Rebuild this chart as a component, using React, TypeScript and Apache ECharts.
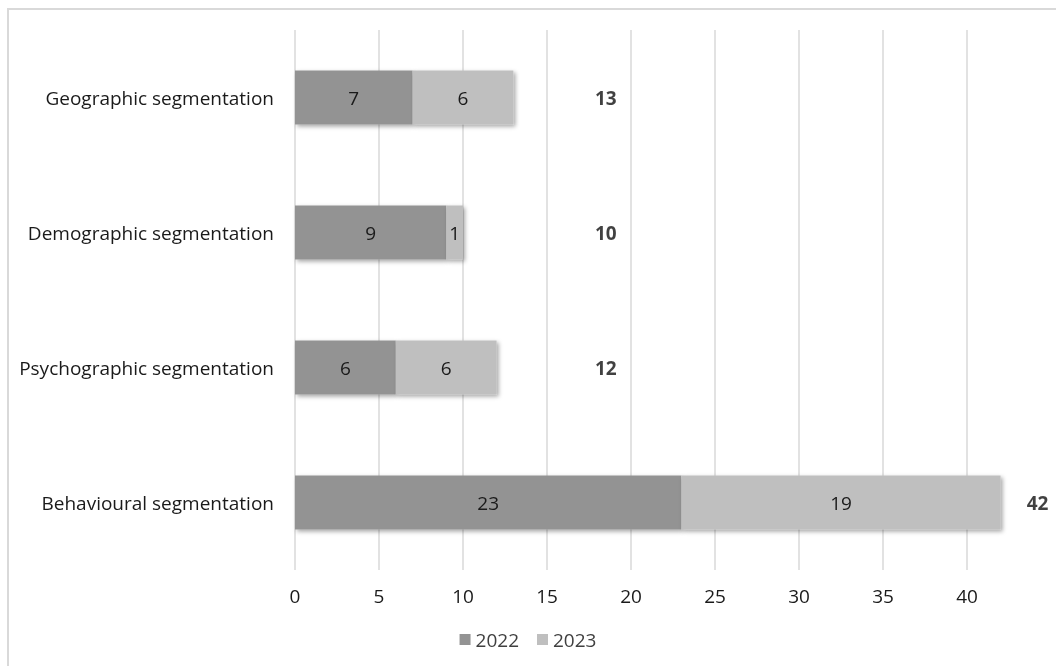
import React, { useEffect, useRef } from "react";
import * as echarts from "echarts";

// Segmentation approaches and counts per year
const categories = [
  "Geographic segmentation",
  "Demographic segmentation",
  "Psychographic segmentation",
  "Behavioural segmentation",
];
const values2022 = [7, 9, 6, 23];
const values2023 = [6, 1, 6, 19];
const seriesNames = ["2022", "2023"];
const xTicks = { min: 0, max: 40, interval: 5 };

const FONT = "'Open Sans', Lato, sans-serif";
const TEXT = "#1a1a1a";
const FS = 19;

export default function App() {
  const ref = useRef<HTMLDivElement>(null);

  useEffect(() => {
    if (!ref.current) return;
    const chart = echarts.init(ref.current, undefined, { renderer: "svg" });
    const totals = values2022.map((v, i) => v + values2023[i]);
    // total labels sit in a column right of the short bars, or just past a long bar
    const totalPoints = totals.map((t, i) => ({ value: [Math.max(t + 2.2, 18.5), i], total: t }));

    const barShadow = {
      shadowBlur: 4,
      shadowOffsetX: 2,
      shadowOffsetY: 2,
      shadowColor: "rgba(0,0,0,0.35)",
    };
    const insideLabel = {
      show: true,
      position: "inside" as const,
      color: TEXT,
      fontSize: FS,
      fontFamily: FONT,
    };

    chart.setOption({
      animation: false,
      textStyle: { fontFamily: FONT },
      grid: { left: 295, right: 89, top: 30, bottom: 96, containLabel: false },
      legend: {
        bottom: 12,
        left: "center",
        itemWidth: 11,
        itemHeight: 11,
        itemGap: 18,
        icon: "rect",
        data: seriesNames,
        textStyle: { color: "#404040", fontSize: FS, fontFamily: FONT },
      },
      xAxis: {
        type: "value",
        min: xTicks.min,
        max: xTicks.max,
        interval: xTicks.interval,
        axisLine: { show: false },
        axisTick: { show: false },
        axisLabel: { color: TEXT, fontSize: FS, fontFamily: FONT, margin: 16 },
        splitLine: { show: true, lineStyle: { color: "#d9d9d9", width: 1.5 } },
      },
      yAxis: {
        type: "category",
        inverse: true,
        data: categories,
        axisLine: { show: false },
        axisTick: { show: false },
        axisLabel: { color: TEXT, fontSize: FS, fontFamily: FONT, margin: 21 },
      },
      series: [
        {
          name: seriesNames[0],
          type: "bar",
          stack: "total",
          barWidth: 54,
          clip: false,
          data: values2022,
          itemStyle: { color: "#939393", ...barShadow },
          label: insideLabel,
        },
        {
          name: seriesNames[1],
          type: "bar",
          stack: "total",
          barWidth: 54,
          clip: false,
          data: values2023,
          itemStyle: { color: "#bfbfbf", ...barShadow },
          label: insideLabel,
        },
        {
          name: "Total",
          type: "scatter",
          clip: false,
          symbolSize: 0,
          silent: true,
          data: totalPoints,
          label: {
            show: true,
            position: "inside",
            color: "#111",
            fontSize: FS,
            fontWeight: "bold",
            fontFamily: FONT,
            formatter: (p: any) => String(p.data.total),
          },
        },
      ],
    });
    return () => chart.dispose();
  }, []);

  return (
    <>
      <div
        style={{
          position: "fixed",
          left: 7,
          top: 8,
          width: 1100,
          height: 700,
          border: "2px solid #d9d9d9",
          boxSizing: "border-box",
        }}
      />
      <div
        ref={ref}
        style={{ position: "fixed", left: 0, top: 0, width: 1056, height: 666 }}
      />
    </>
  );
}
